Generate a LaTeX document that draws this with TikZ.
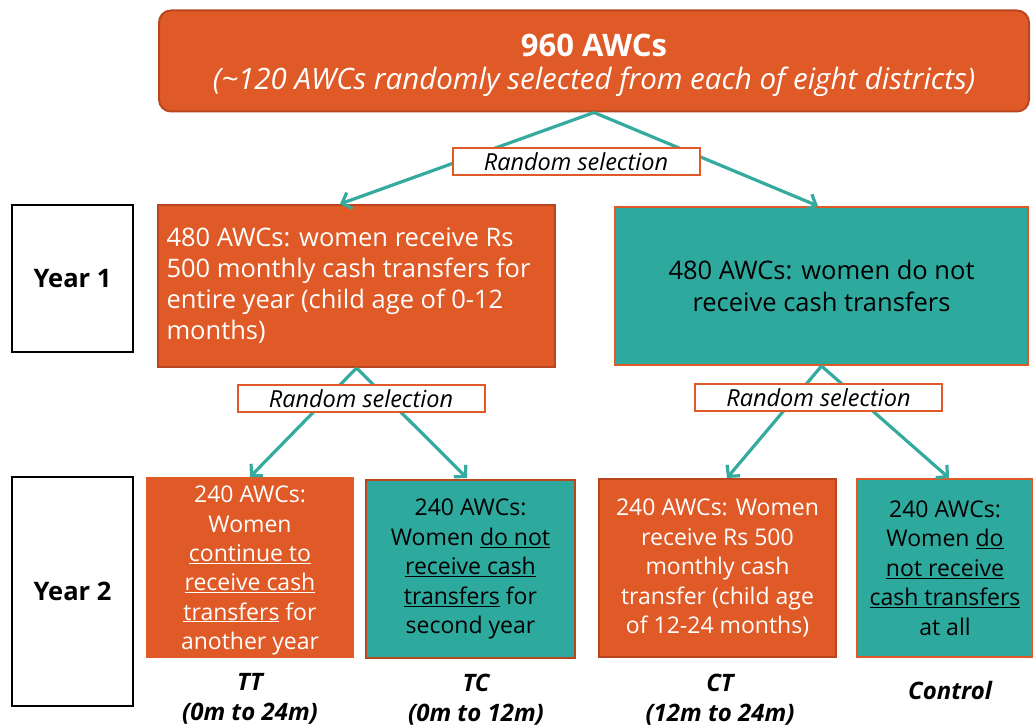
\documentclass[tikz,border=0pt]{standalone}
\usepackage{fontspec}
\setmainfont{Open Sans}
\usetikzlibrary{arrows.meta}
\definecolor{awcorange}{HTML}{E05A27}
\definecolor{awcborder}{HTML}{B9461F}
\definecolor{awcteal}{HTML}{2EA99D}
\definecolor{awcline}{HTML}{35AA9E}
\newcommand\ulx[1]{\underline{#1}}
\begin{document}
\begin{tikzpicture}[x=1pt,y=-1pt,
  cell/.style={draw, line width=2pt, inner sep=0pt, align=center},
  orangecell/.style={cell, fill=awcorange, draw=awcborder, text=white},
  tealcell/.style={cell, fill=awcteal, draw=awcorange, text=black},
  yearcell/.style={cell, fill=white, draw=black, font=\fontsize{25.5}{30}\selectfont\bfseries},
  selbox/.style={draw=awcorange, line width=2pt, fill=white, inner sep=0pt,
    minimum width=247pt, minimum height=27pt, font=\fontsize{23.5}{26}\selectfont\itshape},
  grouplabel/.style={align=center, inner sep=0pt, font=\fontsize{24}{30}\selectfont\bfseries\itshape},
  link/.style={draw=awcline, line width=3.2pt, -{Straight Barb[length=8pt,width=17pt,line width=3.2pt]}},
]
\useasboundingbox (0,0) rectangle (1033,727);

% top level
\node[orangecell, rounded corners=12pt, minimum width=870pt, minimum height=101pt] (all) at (594,61) {};
\node[text=white, font=\fontsize{31}{37}\selectfont\bfseries, inner sep=0pt] (allhead) at (594,45) {960 AWCs};
\node[text=white, font=\fontsize{29.5}{37}\selectfont\itshape, inner sep=0pt] (allsub) at (594,82)
  {(\textasciitilde120 AWCs randomly selected from each of eight districts)};

% year labels
\node[yearcell, minimum width=121pt, minimum height=147pt] (y1) at (72.5,278.5) {Year 1};
\node[yearcell, minimum width=121pt, minimum height=229pt] (y2) at (72.5,591.5) {Year 2};

% year 1 arms
\node[orangecell, minimum width=397pt, minimum height=162pt, align=left,
      font=\fontsize{25.5}{31}\selectfont] (t1) at (356.5,286)
  {\parbox{380pt}{\raggedright 480 AWCs: women receive Rs\\500 monthly cash transfers for\\entire year (child age of 0-12\\months)}};
\node[tealcell, minimum width=413pt, minimum height=158pt,
      font=\fontsize{25.5}{32}\selectfont] (c1) at (821.5,286)
  {480 AWCs: women do not\\receive cash transfers};

% year 2 arms
\node[orangecell, draw=awcorange, minimum width=206pt, minimum height=179pt] (tt) at (250,567.5) {};
\node[text=white, align=center, inner sep=0pt, font=\fontsize{23}{29.3}\selectfont] (tttext) at (250,570.5)
  {240 AWCs:\\Women\\\ulx{continue to}\\\ulx{receive cash}\\\ulx{transfers} for\\another year};
\node[tealcell, draw=awcborder, minimum width=209pt, minimum height=178pt,
      font=\fontsize{23}{29.5}\selectfont] (tc) at (470.5,569)
  {240 AWCs:\\Women \ulx{do not}\\\ulx{receive cash}\\\ulx{transfers} for\\second year};
\node[orangecell, minimum width=237pt, minimum height=178pt,
      font=\fontsize{23}{29.5}\selectfont] (ct) at (717.5,568)
  {240 AWCs: Women\\receive Rs 500\\monthly cash\\transfer (child age\\of 12-24 months)};
\node[tealcell, minimum width=176pt, minimum height=178pt,
      font=\fontsize{23}{29.5}\selectfont] (cc) at (945,568)
  {240 AWCs:\\Women \ulx{do}\\\ulx{not receive}\\\ulx{cash transfers}\\at all};

% connectors
\coordinate (s0) at (all.south);
\coordinate (s1) at (t1.south);
\coordinate (s2) at (c1.south);
\draw[link] (s0) -- (340,204);
\draw[link] (s0) -- (818,206);
\draw[link] (s1) -- (tt.north);
\draw[link] (s1) -- (467,478);
\draw[link] (s2) -- (727,478);
\draw[link] (s2) -- (949,478);

% selection labels on top of the connectors
\node[selbox] (r0) at (576,162) {Random selection};
\node[selbox] (r1) at (361,398.5) {Random selection};
\node[selbox] (r2) at (818.5,397.5) {Random selection};

% arm labels
\node[grouplabel] (ltt) at (250,699) {TT\\(0m to 24m)};
\node[grouplabel] (ltc) at (476,700) {TC\\(0m to 12m)};
\node[grouplabel] (lct) at (720,700) {CT\\(12m to 24m)};
\node[grouplabel] (lcc) at (950,690) {Control};
\end{tikzpicture}
\end{document}
